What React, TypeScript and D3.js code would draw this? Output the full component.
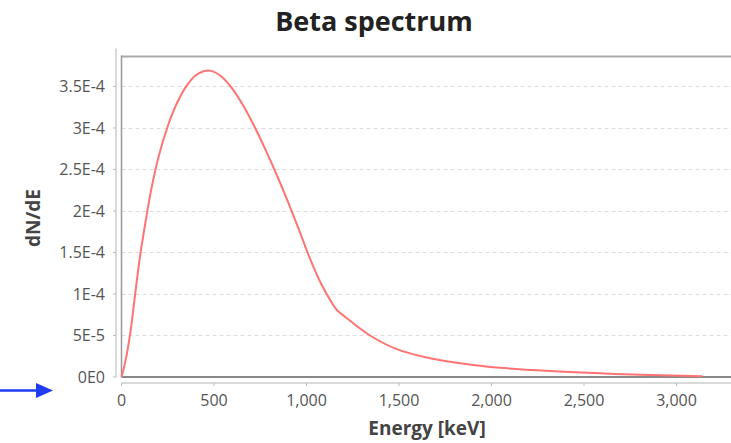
import React, { useEffect, useRef } from "react";
import * as d3 from "d3";

// energy [keV] and dN/dE
const energy = [0, 25, 50, 75, 100, 130, 160, 200, 250, 300, 350, 400, 440, 478, 540, 600, 660, 720, 780, 840, 900, 960, 1020, 1080, 1130, 1163, 1217, 1280, 1343, 1488, 1668, 1776, 1938, 2046, 2316, 2586, 2857, 3140];
const dNdE = [0, 2.3e-5, 5.7e-5, 1.02e-4, 1.45e-4, 1.87e-4, 2.25e-4, 2.65e-4, 3.02e-4, 3.3e-4, 3.5e-4, 3.63e-4, 3.68e-4, 3.69e-4, 3.62e-4, 3.47e-4, 3.26e-4, 3.01e-4, 2.73e-4, 2.43e-4, 2.11e-4, 1.77e-4, 1.42e-4, 1.12e-4, 9.2e-5, 8.1e-5, 7.1e-5, 6.0e-5, 5.0e-5, 3.35e-5, 2.25e-5, 1.85e-5, 1.35e-5, 1.1e-5, 7.2e-6, 4.4e-6, 2.4e-6, 1e-6];

const xTicks = [0, 500, 1000, 1500, 2000, 2500, 3000];
const yTicks = [0, 5e-5, 1e-4, 1.5e-4, 2e-4, 2.5e-4, 3e-4, 3.5e-4];
const yTickLabels = ["0E0", "5E-5", "1E-4", "1.5E-4", "2E-4", "2.5E-4", "3E-4", "3.5E-4"];

const width = 731;
const height = 443;
const font = "'Open Sans', 'Noto Sans', sans-serif";

export default function App() {
  const svgRef = useRef<SVGSVGElement>(null);

  useEffect(() => {
    const svg = d3.select(svgRef.current);
    svg.selectAll("*").remove();

    const left = 121.5;
    const top = 56.5;
    const bottom = 377;

    const x = d3.scaleLinear().domain([0, 3300]).range([left, left + 3300 * 0.185]);
    const y = d3.scaleLinear().domain([0, 3.86e-4]).range([bottom, top]);

    // title
    svg
      .append("text")
      .attr("x", 374)
      .attr("y", 31)
      .attr("text-anchor", "middle")
      .style("font-family", font)
      .style("font-size", "27px")
      .style("font-weight", "bold")
      .attr("fill", "#222")
      .text("Beta spectrum");

    // grid
    svg
      .selectAll("line.grid")
      .data(yTicks.slice(1))
      .join("line")
      .attr("class", "grid")
      .attr("x1", left)
      .attr("x2", width)
      .attr("y1", (d) => Math.round(y(d)) + 0.5)
      .attr("y2", (d) => Math.round(y(d)) + 0.5)
      .attr("stroke", "#ddd")
      .attr("stroke-dasharray", "4,3");

    // plot frame
    svg
      .append("line")
      .attr("x1", left)
      .attr("x2", width)
      .attr("y1", top)
      .attr("y2", top)
      .attr("stroke", "#aaa")
      .attr("stroke-width", 2);
    svg
      .append("line")
      .attr("x1", left)
      .attr("x2", left)
      .attr("y1", top - 1)
      .attr("y2", bottom)
      .attr("stroke", "#999")
      .attr("stroke-width", 1.5);
    svg
      .append("line")
      .attr("x1", left)
      .attr("x2", width)
      .attr("y1", bottom)
      .attr("y2", bottom)
      .attr("stroke", "#888")
      .attr("stroke-width", 2);

    // y axis
    const yAxisX = 116;
    svg
      .append("line")
      .attr("x1", yAxisX)
      .attr("x2", yAxisX)
      .attr("y1", top - 8)
      .attr("y2", bottom)
      .attr("stroke", "#ccc")
      .attr("stroke-width", 1.5);
    const yt = svg.selectAll("g.yt").data(yTicks).join("g").attr("class", "yt");
    yt.append("line")
      .attr("x1", yAxisX - 3)
      .attr("x2", yAxisX)
      .attr("y1", (d) => y(d))
      .attr("y2", (d) => y(d))
      .attr("stroke", "#bbb");
    yt.append("text")
      .attr("x", 105)
      .attr("y", (d) => y(d))
      .attr("dy", "0.35em")
      .attr("text-anchor", "end")
      .style("font-family", font)
      .style("font-size", "16px")
      .attr("fill", "#555")
      .text((d, i) => yTickLabels[i]);

    svg
      .append("text")
      .attr("transform", "translate(40,218) rotate(-90)")
      .attr("text-anchor", "middle")
      .style("font-family", font)
      .style("font-size", "19px")
      .style("font-weight", "bold")
      .attr("fill", "#444")
      .text("dN/dE");

    // x axis
    const xAxisY = 383;
    svg
      .append("line")
      .attr("x1", left)
      .attr("x2", width)
      .attr("y1", xAxisY)
      .attr("y2", xAxisY)
      .attr("stroke", "#ccc")
      .attr("stroke-width", 1.5);
    const xt = svg.selectAll("g.xt").data(xTicks).join("g").attr("class", "xt");
    xt.append("line")
      .attr("x1", (d) => x(d))
      .attr("x2", (d) => x(d))
      .attr("y1", xAxisY)
      .attr("y2", xAxisY + 3)
      .attr("stroke", "#bbb");
    xt.append("text")
      .attr("x", (d) => x(d))
      .attr("y", 406)
      .attr("text-anchor", "middle")
      .style("font-family", font)
      .style("font-size", "16px")
      .attr("fill", "#555")
      .text((d) => d3.format(",")(d));

    svg
      .append("text")
      .attr("x", 427)
      .attr("y", 435)
      .attr("text-anchor", "middle")
      .style("font-family", font)
      .style("font-size", "19px")
      .style("font-weight", "bold")
      .attr("fill", "#444")
      .text("Energy [keV]");

    // spectrum
    const line = d3
      .line<number>()
      .x((d) => x(d))
      .y((d, i) => y(dNdE[i]))
      .curve(d3.curveCatmullRom.alpha(0.5));
    svg
      .append("path")
      .attr("d", line(energy))
      .attr("fill", "none")
      .attr("stroke", "#ff7373")
      .attr("stroke-width", 2);

    // blue arrow marker
    svg
      .append("line")
      .attr("x1", 0)
      .attr("x2", 40)
      .attr("y1", 390.5)
      .attr("y2", 390.5)
      .attr("stroke", "#1f3cf5")
      .attr("stroke-width", 2.5);
    svg
      .append("path")
      .attr("d", "M36,383 L53,390.5 L36,398 Z")
      .attr("fill", "#1f3cf5");
  }, []);

  return (
    <svg
      ref={svgRef}
      width={width}
      height={height}
      style={{ position: "absolute", left: 0, top: 0, background: "#fff" }}
    />
  );
}
